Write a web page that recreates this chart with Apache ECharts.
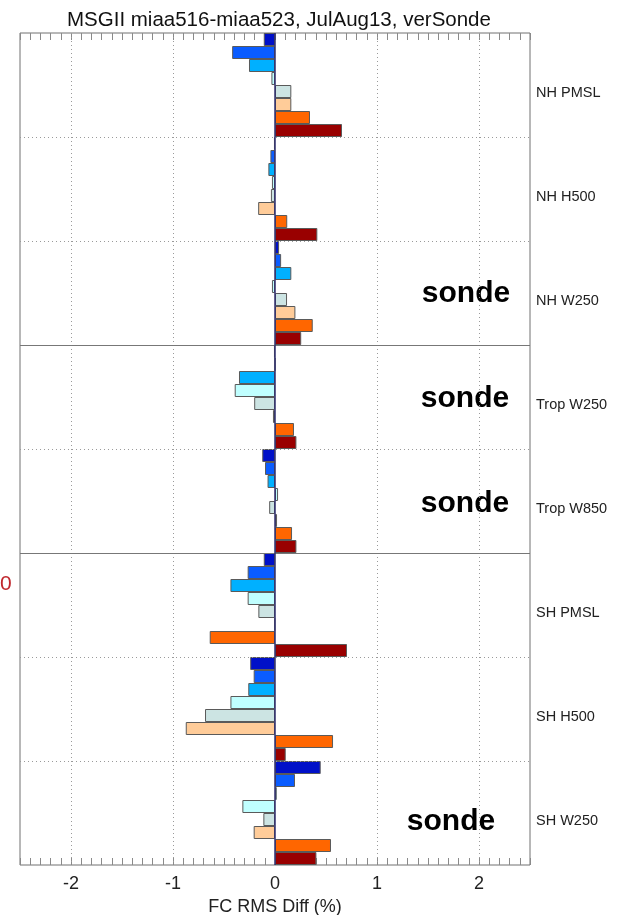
<!DOCTYPE html>
<html>
<head>
<meta charset="utf-8">
<script src="https://cdn.jsdelivr.net/npm/echarts@6/dist/echarts.min.js"></script>
<style>
html, body { margin: 0; padding: 0; background: #ffffff; }
#chart { width: 623px; height: 915px; }
</style>
</head>
<body>
<div id="chart"></div>
<script>
// Verification regions / fields (top to bottom)
const categories = ['NH PMSL', 'NH H500', 'NH W250', 'Trop W250', 'Trop W850', 'SH PMSL', 'SH H500', 'SH W250'];

// Forecast RMS difference (%) per lead-time bar, one array per bar colour
const dayA = [-0.11, -0.01, 0.04, -0.01, -0.125, -0.11, -0.243, 0.448];
const dayB = [-0.42, -0.045, 0.06, 0.0, -0.098, -0.268, -0.209, 0.196];
const dayC = [-0.255, -0.065, 0.16, -0.353, -0.073, -0.437, -0.262, 0.017];
const dayD = [-0.035, -0.03, -0.03, -0.395, 0.03, -0.268, -0.437, -0.32];
const dayE = [0.16, -0.04, 0.118, -0.204, -0.057, -0.163, -0.686, -0.114];
const dayF = [0.16, -0.165, 0.2, -0.02, 0.02, -0.005, -0.875, -0.209];
const dayG = [0.343, 0.12, 0.37, 0.186, 0.167, -0.64, 0.569, 0.549];
const dayH = [0.657, 0.415, 0.257, 0.21, 0.21, 0.706, 0.105, 0.406];

const barColors = ['#0010c8', '#0a5cff', '#00b0ff', '#c0ffff', '#cce4e3', '#ffcc99', '#ff6600', '#990000'];

// Labelled x ticks and the dotted vertical grid lines
const xTickLabels = [-2, -1, 0, 1, 2];
const xGridValues = [-2, -1, 1, 2];
// Region boundaries: dotted between fields, solid between hemispheres/tropics
const dottedBounds = [1, 2, 4, 6, 7];
const solidBounds = [3, 5];

const FONT = 'Liberation Sans, Arial, Helvetica, sans-serif';

const chart = echarts.init(document.getElementById('chart'), null, { renderer: 'canvas' });

const allDays = [dayA, dayB, dayC, dayD, dayE, dayF, dayG, dayH];

const barSeries = allDays.map((vals, i) => ({
  type: 'bar',
  xAxisIndex: 0,
  yAxisIndex: 0,
  data: vals,
  barGap: '0%',
  barCategoryGap: '0%',
  itemStyle: { color: barColors[i], borderColor: '#5a5a5a', borderWidth: 1 },
  silent: true,
  z: 3
}));

const isWhole = v => Math.abs(v - Math.round(v)) < 1e-6;

function xAxisBase() {
  return {
    type: 'value',
    min: -2.5,
    max: 2.5,
    interval: 0.1,
    axisLine: { show: false, onZero: false },
    axisTick: { show: true, inside: true, length: 7, lineStyle: { color: '#8a8a8a', width: 1 } },
    splitLine: { show: false }
  };
}

const option = {
  animation: false,
  backgroundColor: '#ffffff',
  title: {
    text: 'MSGII miaa516-miaa523, JulAug13, verSonde',
    left: 62,
    top: 5,
    textStyle: { fontFamily: FONT, fontSize: 20.5, fontWeight: 'normal', color: '#111111' }
  },
  grid: {
    left: 20,
    top: 33,
    width: 510,
    height: 832,
    containLabel: false,
    outerBoundsMode: 'none',
    show: true,
    borderColor: '#707070',
    borderWidth: 1,
    backgroundColor: 'transparent'
  },
  xAxis: [
    Object.assign(xAxisBase(), {
      position: 'bottom',
      name: 'FC RMS Diff (%)',
      nameLocation: 'middle',
      nameGap: 33,
      nameTextStyle: { fontFamily: FONT, fontSize: 18, color: '#222222' },
      axisLabel: {
        show: true,
        margin: 10,
        fontFamily: FONT,
        fontSize: 18,
        color: '#222222',
        formatter: v => (isWhole(v) && xTickLabels.indexOf(Math.round(v)) >= 0) ? String(Math.round(v)) : ''
      }
    }),
    Object.assign(xAxisBase(), {
      position: 'top',
      axisLabel: { show: false }
    })
  ],
  yAxis: [
    {
      type: 'category',
      data: categories,
      inverse: true,
      position: 'right',
      axisLine: { show: false, onZero: false },
      axisTick: { show: false },
      splitLine: { show: false },
      axisLabel: {
        show: true,
        margin: 6,
        fontFamily: FONT,
        fontSize: 14.5,
        color: '#222222',
        verticalAlign: 'top'
      }
    },
    {
      type: 'value',
      min: 0,
      max: 8,
      interval: 1,
      inverse: true,
      position: 'left',
      axisLine: { show: false, onZero: false },
      axisTick: { show: false },
      axisLabel: { show: false },
      splitLine: { show: false }
    }
  ],
  graphic: [
    {
      type: 'text',
      left: 0,
      top: 574,
      style: { text: '0', fontFamily: FONT, fontSize: 21, fill: '#c0272d' }
    },
    { type: 'text', x: 466, y: 294, style: { text: 'sonde', fontFamily: FONT, fontSize: 30, fontWeight: 'bold', fill: '#000000', align: 'center', verticalAlign: 'middle' } },
    { type: 'text', x: 465, y: 399, style: { text: 'sonde', fontFamily: FONT, fontSize: 30, fontWeight: 'bold', fill: '#000000', align: 'center', verticalAlign: 'middle' } },
    { type: 'text', x: 465, y: 504, style: { text: 'sonde', fontFamily: FONT, fontSize: 30, fontWeight: 'bold', fill: '#000000', align: 'center', verticalAlign: 'middle' } },
    { type: 'text', x: 451, y: 822, style: { text: 'sonde', fontFamily: FONT, fontSize: 30, fontWeight: 'bold', fill: '#000000', align: 'center', verticalAlign: 'middle' } }
  ],
  series: [
    // Reference lines: vertical dotted grid and region separators
    {
      type: 'line',
      xAxisIndex: 0,
      yAxisIndex: 1,
      data: [],
      silent: true,
      z: 1,
      markLine: {
        silent: true,
        symbol: ['none', 'none'],
        label: { show: false },
        animation: false,
        data: [].concat(
          xGridValues.map(v => ({ xAxis: v, lineStyle: { color: '#9a9a9a', type: [1, 3], width: 1 } })),
          dottedBounds.map(v => ({ yAxis: v, lineStyle: { color: '#9a9a9a', type: [1, 3], width: 1 } })),
          solidBounds.map(v => ({ yAxis: v, lineStyle: { color: '#777777', type: 'solid', width: 1 } }))
        )
      }
    },
    // Zero line
    {
      type: 'line',
      xAxisIndex: 0,
      yAxisIndex: 1,
      data: [],
      silent: true,
      z: 2,
      markLine: {
        silent: true,
        symbol: ['none', 'none'],
        label: { show: false },
        animation: false,
        data: [{ xAxis: 0, lineStyle: { color: '#2e2e6e', type: 'solid', width: 1.5 } }]
      }
    }
  ].concat(barSeries)
};

chart.setOption(option);
</script>
</body>
</html>
